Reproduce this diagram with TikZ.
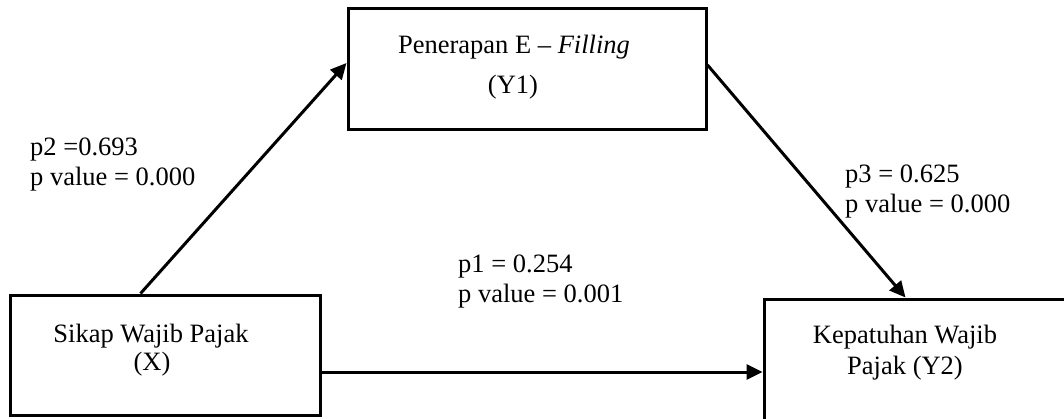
\documentclass[tikz,border=0pt]{standalone}
\usepackage{fontspec}
\setmainfont{Liberation Serif}
\usetikzlibrary{arrows.meta}
\begin{document}
\begin{tikzpicture}[x=1pt,y=-1pt,
  box/.style={draw=black,line width=3pt,rectangle,inner sep=0pt},
  txt/.style={inner sep=0pt,font=\fontsize{26.5}{30}\selectfont},
  link/.style={line width=3pt,-{Triangle[length=16pt,width=15pt]}}]
\useasboundingbox (0,0) rectangle (1064,418);
\clip (0,0) rectangle (1064,418);

% boxes
\node[box,minimum width=358pt,minimum height=121pt] (Y1) at (527,68.5) {};
\node[box,minimum width=310pt,minimum height=120pt] (X) at (165,355) {};
\node[box,minimum width=311pt,minimum height=131pt] (Y2) at (919.5,364.5) {};

% box texts
\node[txt,anchor=base] (y1a) at (514,53) {Penerapan E -- \textit{Filling}};
\node[txt,anchor=base] (y1b) at (513,93) {(Y1)};
\node[txt,anchor=base] (xa) at (151,342) {Sikap Wajib Pajak};
\node[txt,anchor=base] (xb) at (152,370) {(X)};
\node[txt,anchor=base] (y2a) at (905,343) {Kepatuhan Wajib};
\node[txt,anchor=base] (y2b) at (905,374) {Pajak (Y2)};

% path coefficients
\node[txt,anchor=base west] (p2a) at (30,155) {p2 =0.693};
\node[txt,anchor=base west] (p2b) at (30,185) {p value = 0.000};
\node[txt,anchor=base west] (p3a) at (845,182) {p3 = 0.625};
\node[txt,anchor=base west] (p3b) at (845,212) {p value = 0.000};
\node[txt,anchor=base west] (p1a) at (458,272) {p1 = 0.254};
\node[txt,anchor=base west] (p1b) at (458,302) {p value = 0.001};

% connectors
\draw[link] ([xshift=132pt]X.north west) -- ([yshift=5.5pt]Y1.west);
\draw[link] ([yshift=3.5pt]Y1.east) -- ([xshift=143pt]Y2.north west);
\coordinate (h) at ([yshift=-17pt]X.east);
\draw[link] (h) -- (h -| Y2.west);
\end{tikzpicture}
\end{document}
